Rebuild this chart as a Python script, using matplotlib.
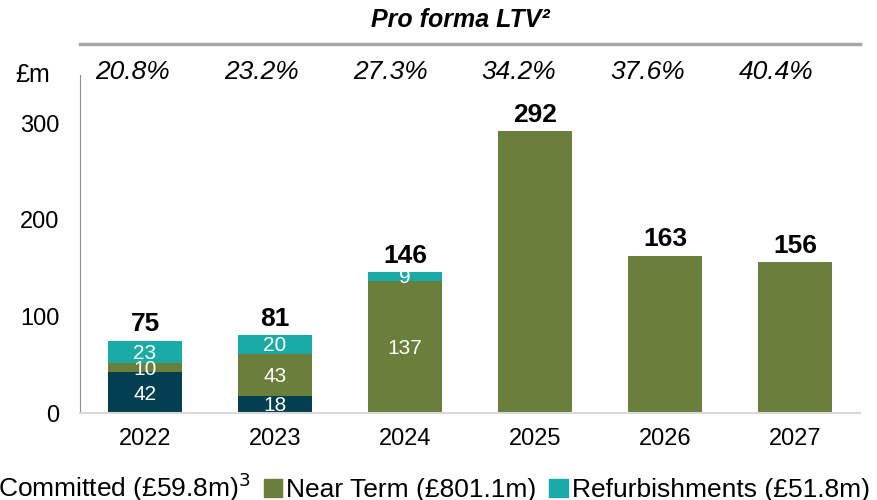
import numpy as np
import matplotlib.pyplot as plt
from matplotlib.patches import Patch

plt.rcParams['font.family'] = ['Liberation Sans', 'DejaVu Sans']

years = ['2022', '2023', '2024', '2025', '2026', '2027']
committed = [42, 18, 0, 0, 0, 0]
near_term = [10, 43, 137, 292, 163, 156]
refurb = [23, 20, 9, 0, 0, 0]
totals = [75, 81, 146, 292, 163, 156]
ltv = ['20.8%', '23.2%', '27.3%', '34.2%', '37.6%', '40.4%']

c_comm = '#023f50'
c_near = '#6a7f3b'
c_ref = '#1aaba6'

fig = plt.figure(figsize=(8.77, 5), dpi=100)
# axes box: left spine at x=80, x-axis at y=413, top at y=75 (pixels)
ax = fig.add_axes([80 / 877, 87 / 500, 780 / 877, 338 / 500])

x = np.arange(len(years))
w = 0.57
ax.bar(x, committed, w, color=c_comm)
ax.bar(x, near_term, w, bottom=committed, color=c_near)
bot3 = np.array(committed) + np.array(near_term)
ax.bar(x, refurb, w, bottom=bot3, color=c_ref)

# segment labels (only on the stacked bars)
for i in range(len(years)):
    if committed[i] == 0 and refurb[i] == 0:
        continue
    if committed[i]:
        ax.text(x[i], committed[i] / 2 - 1.5, str(committed[i]), ha='center', va='center',
                color='white', fontsize=15)
    ax.text(x[i], committed[i] + near_term[i] / 2 - 1.5, str(near_term[i]), ha='center',
            va='center', color='white', fontsize=15)
    if refurb[i]:
        ax.text(x[i], bot3[i] + refurb[i] / 2 - 1.5, str(refurb[i]), ha='center', va='center',
                color='white', fontsize=15)

for i, t in enumerate(totals):
    ax.annotate(str(t), xy=(x[i], t), xytext=(0, 3), textcoords='offset points',
                ha='center', va='bottom', fontsize=19, fontweight='bold')

ax.set_xlim(-0.5, 5.5)
ax.set_ylim(0, 350)
ax.set_yticks([0, 100, 200, 300])
ax.set_xticks(x)
ax.set_xticklabels(years)
ax.tick_params(axis='both', length=0, labelsize=17)
ax.tick_params(axis='y', pad=15)
ax.tick_params(axis='x', pad=11)
for s in ['top', 'right']:
    ax.spines[s].set_visible(False)
ax.spines['left'].set_color('#8c8c8c')
ax.spines['bottom'].set_color('#d9d9d9')
ax.spines['bottom'].set_linewidth(1.5)

# LTV header row (sits slightly left of the bars, drifting a little more to the right)
for i, v in enumerate(ltv):
    ax.annotate(v, xy=(x[i], 1), xycoords=('data', 'axes fraction'),
                xytext=((-12 - 1.4 * i) * 0.72, 2), textcoords='offset points',
                ha='center', va='center', fontsize=19, style='italic')
fig.text(33 / 877, 1 - 75 / 500, '£m', ha='center', va='center', fontsize=18)
fig.text(460 / 877, 1 - 20 / 500, 'Pro forma LTV²', ha='center', va='center',
         fontsize=18, fontweight='bold', style='italic')
fig.add_artist(plt.Line2D([80 / 877, 860 / 877], [1 - 44 / 500, 1 - 44 / 500],
                          color='#a6a6a6', linewidth=2.5))

handles = [Patch(color=c_comm), Patch(color=c_near), Patch(color=c_ref)]
labels = ['Committed (£59.8m)$^{3}$', 'Near Term (£801.1m)', 'Refurbishments (£51.8m)']
fig.legend(handles, labels, loc='center', bbox_to_anchor=(0.482, 0.025), ncol=3,
           frameon=False, fontsize=19, handlelength=0.7, handleheight=0.7,
           handletextpad=0.15, columnspacing=0.5)

fig.savefig('out.png', dpi=100)
